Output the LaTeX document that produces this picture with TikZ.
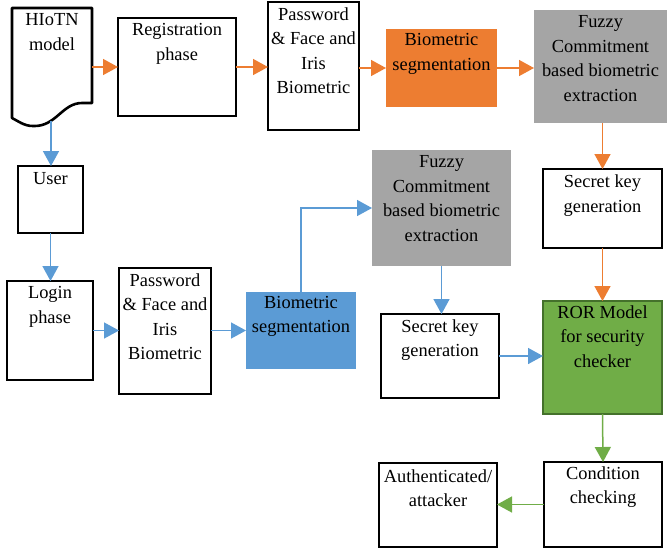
\documentclass[tikz,border=0pt]{standalone}
\usepackage{fontspec}
\setmainfont{Liberation Serif}
\usetikzlibrary{arrows.meta,calc}
\definecolor{orng}{HTML}{ED7D31}
\definecolor{grayf}{HTML}{A5A5A5}
\definecolor{bluef}{HTML}{5B9BD5}
\definecolor{greenf}{HTML}{70AD47}
\definecolor{greend}{HTML}{44712B}
\begin{document}
\begin{tikzpicture}[x=1pt,y=-1pt,
  box/.style={draw=black, line width=1.6pt, fill=white, inner sep=0pt, outer sep=0pt},
  flat/.style={draw=none, inner sep=0pt, outer sep=0pt},
  txt/.style={anchor=north, inner sep=0pt, align=center, font=\fontsize{18.4}{24.5}\selectfont},
  con/.style={line width=1.5pt, -{Triangle[length=15pt,width=16pt]}},
  oc/.style={con, draw=orng},
  bc/.style={con, draw=bluef},
  gc/.style={con, draw=greenf}]
\useasboundingbox (0,0) rectangle (668,550);
% HIoTN document shape
\node[flat, minimum width=80pt, minimum height=119pt] (hiotn) at (52,67.5) {};
\draw[line width=2.6pt, line join=round, fill=white] (12,8) -- (92,8) -- (92,103) -- (82,103)
  .. controls (62,103) and (56,127) .. (33,126)
  .. controls (24,126) and (18,121) .. (12,118) -- cycle;
\coordinate (hw) at (51,121);
\node[txt] (hiotn-t) at (52,13.5) {HIoTN\\model};
% top row
\node[box, minimum width=118pt, minimum height=98pt] (reg) at (177,67) {};
\node[box, minimum width=91pt, minimum height=128pt] (pass1) at (313.5,66) {};
\node[flat, fill=orng, minimum width=111pt, minimum height=78pt] (bio1) at (441.5,68) {};
\node[flat, fill=grayf, minimum width=133pt, minimum height=113pt] (fuzzy1) at (600.5,66.5) {};
\node[box, minimum width=119pt, minimum height=79pt] (secret1) at (602.5,208.5) {};
\node[draw=greend, line width=2.6pt, fill=greenf, inner sep=0pt, outer sep=0pt, minimum width=119pt, minimum height=113pt] (ror) at (602.5,357.5) {};
% left column
\node[box, minimum width=65pt, minimum height=67pt] (user) at (50.5,199.5) {};
\node[box, minimum width=86pt, minimum height=99pt] (login) at (50,330.5) {};
\node[box, minimum width=92pt, minimum height=126pt] (pass2) at (165,331) {};
\node[flat, fill=bluef, minimum width=110pt, minimum height=77pt] (bio2) at (301,330.5) {};
\node[flat, fill=grayf, minimum width=139pt, minimum height=116pt] (fuzzy2) at (441.5,208) {};
\node[box, minimum width=118pt, minimum height=84pt] (secret2) at (440,356) {};
\node[box, minimum width=118pt, minimum height=85pt] (cond) at (603,504.5) {};
\node[box, minimum width=118pt, minimum height=84pt] (auth) at (438,505) {};
% texts
\node[txt] (reg-t) at ($(reg.north)+(0,5.5)$) {Registration\\phase};
\node[txt] (pass1-t) at ($(pass1.north)+(0,5.5)$) {Password\\\& Face and\\Iris\\Biometric};
\node[txt] (bio1-t) at ($(bio1.north)+(0,4.5)$) {Biometric\\segmentation};
\node[txt] (fuzzy1-t) at ($(fuzzy1.north)+(0,5.5)$) {Fuzzy\\Commitment\\based biometric\\extraction};
\node[txt] (secret1-t) at ($(secret1.north)+(0,6)$) {Secret key\\generation};
\node[txt] (ror-t) at ($(ror.north)+(0,4.5)$) {ROR Model\\for security\\checker};
\node[txt] (user-t) at ($(user.north)+(0,6)$) {User};
\node[txt] (login-t) at ($(login.north)+(0,5.5)$) {Login\\phase};
\node[txt] (pass2-t) at ($(pass2.north)+(0,5.5)$) {Password\\\& Face and\\Iris\\Biometric};
\node[txt] (bio2-t) at ($(bio2.north)+(0,4)$) {Biometric\\segmentation};
\node[txt] (fuzzy2-t) at ($(fuzzy2.north)+(0,5.5)$) {Fuzzy\\Commitment\\based biometric\\extraction};
\node[txt] (secret2-t) at ($(secret2.north)+(0,5.5)$) {Secret key\\generation};
\node[txt] (cond-t) at ($(cond.north)+(0,4.5)$) {Condition\\checking};
\node[txt] (auth-t) at ($(auth.north)+(0,6.5)$) {Authenticated/\\attacker};
% connectors
\draw[oc] (hiotn.east |- reg.west) -- (reg.west);
\draw[oc] (reg.east) -- (reg.east -| pass1.west);
\draw[oc] (pass1.east |- bio1.west) -- (bio1.west);
\draw[oc] (bio1.east) -- (bio1.east -| fuzzy1.west);
\draw[oc] (fuzzy1.south -| secret1.north) -- (secret1.north);
\draw[oc] (secret1.south) -- (ror.north);
\draw[bc] (hw) -- (hw |- user.north);
\draw[bc] (user.south) -- (user.south |- login.north);
\draw[bc] (login.east) -- (login.east -| pass2.west);
\draw[bc] (pass2.east |- bio2.west) -- (bio2.west);
\draw[bc] (bio2.north) |- (fuzzy2.west);
\draw[bc] (fuzzy2.south) -- (fuzzy2.south |- secret2.north);
\draw[bc] (secret2.east) -- (secret2.east -| ror.west);
\draw[gc] (ror.south) -- (cond.north);
\draw[gc] (cond.west) -- (cond.west -| auth.east);
\end{tikzpicture}
\end{document}
